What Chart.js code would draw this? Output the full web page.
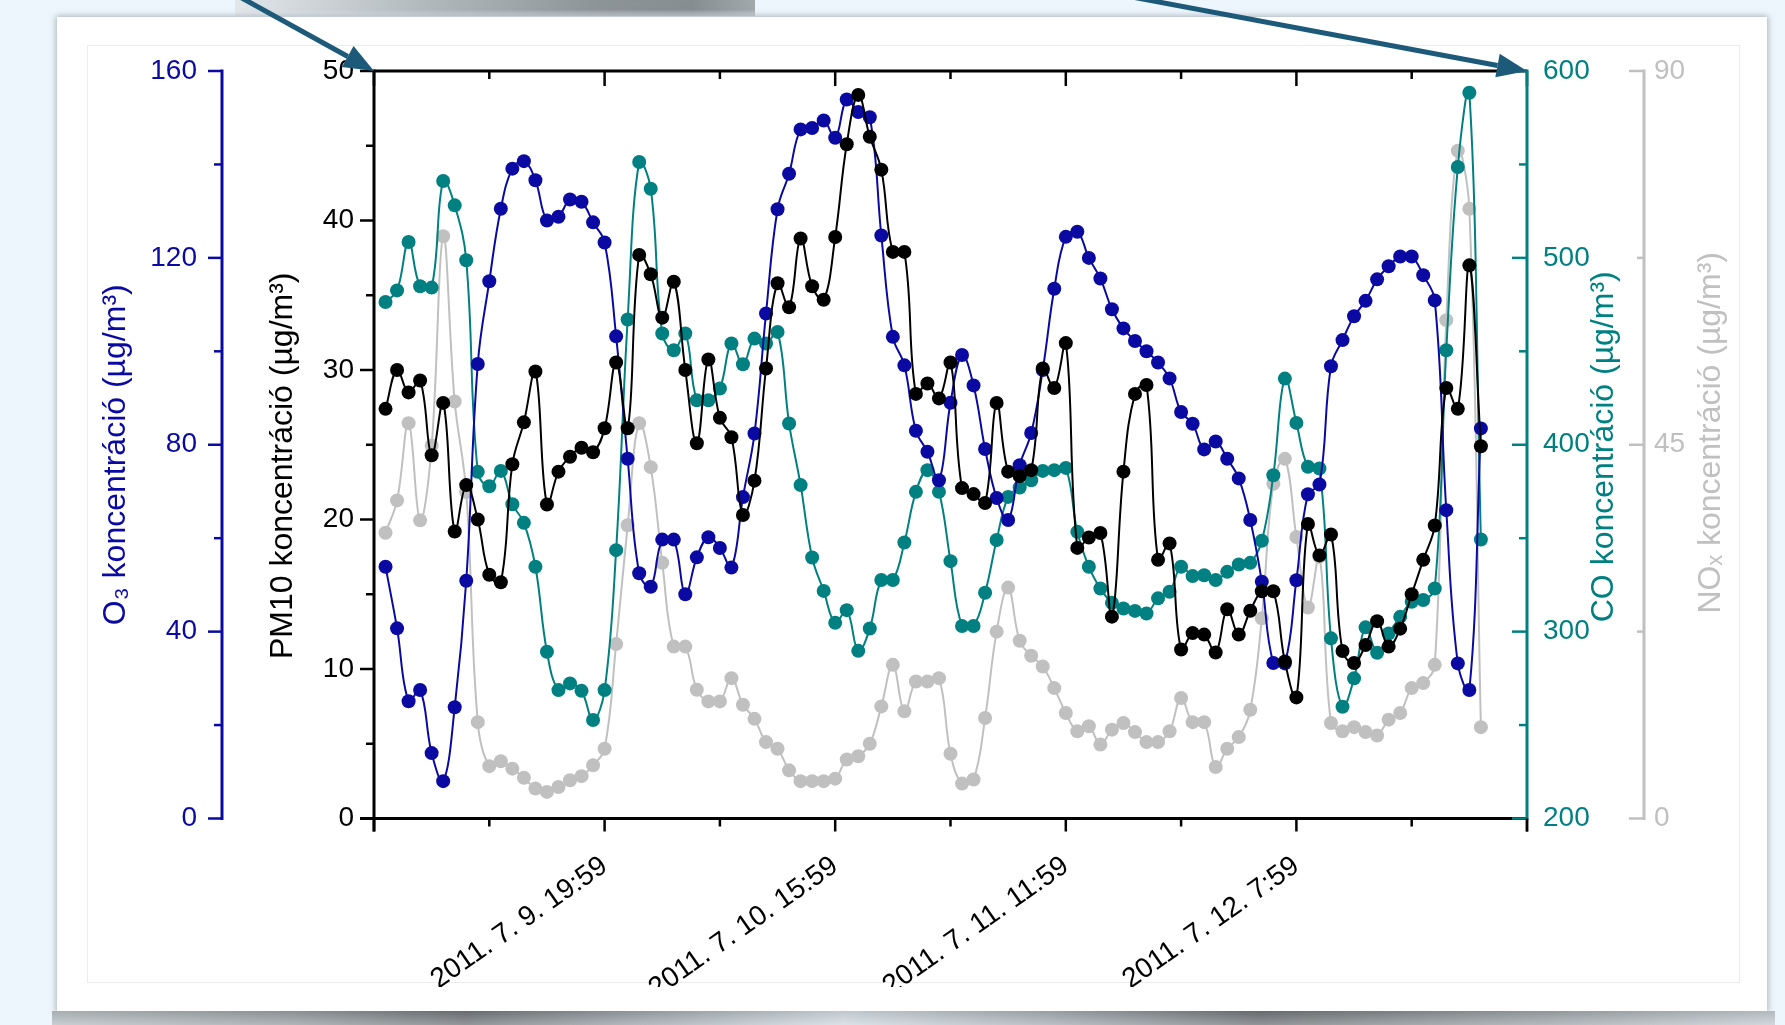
<!DOCTYPE html>
<html>
<head>
<meta charset="utf-8">
<title>O3, PM10, CO, NOx koncentráció</title>
<script src="https://cdn.jsdelivr.net/npm/chart.js@4.4.1/dist/chart.umd.min.js"></script>
<style>
  html, body { margin: 0; padding: 0; width: 1785px; height: 1025px; overflow: hidden; background: #eef6fd; }
  #topband { position: absolute; left: 235px; top: 0; width: 520px; height: 16px;
    background: linear-gradient(to bottom, rgba(255,255,255,0) 60%, rgba(238,246,253,0.6) 100%),
                linear-gradient(to right, #e2e7ea 0%, #b4bbbf 35%, #8d9498 70%, #878e92 88%, #a2a9ad 100%); }
  #card { position: absolute; left: 57px; top: 17px; width: 1710px; height: 994px; background: #fff;
    box-shadow: 0 0 6px 1px rgba(110,120,128,0.55); }
  #frame { position: absolute; left: 87px; top: 45px; width: 1651px; height: 936px; border: 1px solid #ececec; }
  #bottomband { position: absolute; left: 52px; top: 1011px; width: 1723px; height: 14px;
    background: linear-gradient(to bottom, rgba(0,0,0,0.08) 0%, rgba(255,255,255,0.25) 100%),
                linear-gradient(to right, #b6bec2 0%, #959ca0 14%, #6f7478 24%, #9aa2a8 34%, #cfd9e0 46%, #a3abb1 58%, #6d7276 70%, #8f969a 82%, #c2cacf 100%); }
  #chart { position: absolute; left: 0; top: 0; }
</style>
</head>
<body>
<div id="topband"></div>
<div id="card"></div>
<div id="frame"></div>
<div id="bottomband"></div>
<canvas id="chart" width="1785" height="987"></canvas>
<script>
// Hourly averages, first sample 2011.7.9. 0:59, last 2011.7.12. 23:59.
// x = hours elapsed since 2011.7.8. 23:59.
const O3 = [53.9, 40.7, 25.1, 27.5, 14, 8, 23.8, 50.9, 97.3, 115,
  130.5, 139.1, 140.7, 136.6, 128, 128.8, 132.5, 132, 127.6, 123.3,
  103.2, 77, 52.5, 49.6, 59.7, 59.7, 48, 55.9, 60.2, 57.9,
  53.7, 68.8, 82.4, 108.1, 130.4, 138, 147.5, 147.8, 149.4, 145.7,
  153.9, 151.2, 150.1, 124.8, 103.1, 97, 83, 78.5, 72.4, 89,
  99.2, 92.7, 79.1, 68.6, 63.9, 75.6, 82.5, 96, 113.4, 124.5,
  125.6, 120, 115.6, 109, 104.9, 102.2, 100, 97.6, 94.2, 87,
  84.5, 79, 80.7, 77, 72.8, 63.9, 50.7, 33.3, 33.2, 51,
  69.4, 71.5, 96.8, 102.4, 107.5, 110.8, 115.4, 118.2, 120.3, 120.3,
  116.3, 110.9, 66, 33.2, 27.5, 83.5];

const PM10 = [27.4, 30.0, 28.5, 29.3, 24.3, 27.8, 19.2, 22.3, 20.0, 16.3,
  15.8, 23.7, 26.5, 29.9, 21.0, 23.2, 24.2, 24.8, 24.5, 26.1,
  30.5, 26.1, 37.7, 36.4, 33.5, 35.9, 30.0, 25.1, 30.7, 26.8,
  25.5, 20.3, 22.6, 30.1, 35.8, 34.2, 38.8, 35.6, 34.7, 38.9,
  45.1, 48.4, 45.6, 43.4, 37.9, 37.9, 28.4, 29.1, 28.1, 30.5,
  22.1, 21.7, 21.1, 27.8, 23.2, 22.9, 23.3, 30.1, 28.8, 31.8,
  18.1, 18.8, 19.1, 13.5, 23.2, 28.4, 29.0, 17.3, 18.4, 11.3,
  12.4, 12.3, 11.1, 14.0, 12.3, 13.9, 15.2, 15.2, 10.5, 8.1,
  19.7, 17.6, 19.0, 11.2, 10.4, 11.6, 13.2, 11.5, 12.7, 15.0,
  17.3, 19.6, 28.8, 27.4, 37.0, 24.9];

const CO = [476.4, 482.6, 508.5, 484.8, 484.1, 541.1, 528.1, 498.7, 385.5, 377.8,
  386, 368.2, 358.2, 334.7, 289.2, 268.7, 272.3, 268.3, 252.7, 268.7,
  343.6, 467, 551.3, 537, 459.5, 450.6, 459.5, 423.8, 423.8, 430.1,
  454.2, 443.1, 456.8, 454.2, 460.4, 411.4, 378.4, 339.7, 321.8, 304.7,
  311.5, 289.7, 301.7, 327.6, 327.6, 347.7, 374.8, 386.4, 374.8, 337.7,
  303, 303, 320.8, 349, 372.1, 377.1, 381, 386, 386.4, 387.6,
  353.4, 334.7, 323.1, 315.4, 312.4, 311.1, 309.7, 317.8, 321.3, 334.7,
  329.7, 330.2, 327.6, 332, 335.9, 336.8, 348.6, 383.7, 435.4, 411.7,
  388.2, 387.3, 296.4, 259.8, 275, 302.3, 288.7, 299, 307.9, 316,
  316.9, 323.1, 450.6, 548.6, 588.4, 349.3];

const NOX = [34.4, 38.3, 47.6, 35.9, 44.9, 70.1, 50.2, 39.3, 11.6, 6.3,
  6.9, 6.0, 4.9, 3.6, 3.2, 3.8, 4.6, 5.1, 6.4, 8.4,
  21.0, 35.3, 47.6, 42.3, 30.8, 20.7, 20.7, 15.5, 14.1, 14.1,
  16.9, 13.7, 12.0, 9.2, 8.4, 5.8, 4.5, 4.5, 4.5, 4.8,
  7.1, 7.5, 9.0, 13.5, 18.5, 12.9, 16.5, 16.5, 16.9, 7.8,
  4.2, 4.7, 12.1, 22.5, 27.8, 21.4, 19.6, 18.3, 15.7, 12.7,
  10.5, 11.1, 8.9, 10.7, 11.5, 10.4, 9.2, 9.2, 10.5, 14.5,
  11.6, 11.6, 6.2, 8.4, 9.8, 13.1, 24.1, 40.3, 43.3, 33.9,
  25.4, 31.5, 11.5, 10.5, 11.0, 10.4, 10.0, 11.9, 12.7, 15.7,
  16.3, 18.5, 60.0, 80.4, 73.4, 11.0];

// labelled time ticks (hours since 2011.7.8. 23:59)
const xTickHours = [20, 40, 60, 80];
const xTickLabels = ['2011. 7. 9. 19:59', '2011. 7. 10. 15:59', '2011. 7. 11. 11:59', '2011. 7. 12. 7:59'];

const FONT = '"Liberation Sans", Arial, Helvetica, sans-serif';
const BLUE = '#0a0aa2';
const TEAL = '#008080';
const GREY = '#c0c0c0';
const BLACK = '#000000';

const toPoints = arr => arr.map((v, i) => ({ x: i + 1, y: v }));

function series(label, values, axis, color, order) {
  return {
    label, data: toPoints(values), yAxisID: axis, order,
    borderColor: color, backgroundColor: color,
    pointBackgroundColor: color, pointBorderWidth: 0,
    pointRadius: 7, borderWidth: 2, tension: 0.4, fill: false
  };
}

// Axis lines, major/minor tick marks, axis titles and the two pointer arrows.
const decorations = {
  id: 'decorations',
  afterDraw(chart) {
    const { ctx, chartArea: a, scales } = chart;
    const { x, yPM, yO3, yCO, yNOx } = scales;
    ctx.save();
    ctx.lineCap = 'butt';

    const line = (x1, y1, x2, y2, color, w) => {
      ctx.strokeStyle = color; ctx.lineWidth = w;
      ctx.beginPath(); ctx.moveTo(x1, y1); ctx.lineTo(x2, y2); ctx.stroke();
    };

    // time axis: bottom and top frame lines with ticks
    for (let v = 0; v <= 100; v += 10) {
      const px = x.getPixelForValue(v);
      const major = v % 20 === 0;
      line(px, a.bottom, px, a.bottom + (major ? 13 : 8), BLACK, 2.5);
      line(px, a.top, px, a.top + (major ? 15 : 8), BLACK, 2.5);
    }
    line(a.left - 14, a.bottom, a.right, a.bottom, BLACK, 3);
    line(a.left, a.top, a.right, a.top, BLACK, 3);

    // PM10 axis on the plot's left edge
    line(a.left, a.top - 1.5, a.left, a.bottom + 13, BLACK, 3);
    for (let v = 0; v <= 50; v += 5) {
      const py = yPM.getPixelForValue(v);
      line(a.left, py, a.left - (v % 10 === 0 ? 14 : 8), py, BLACK, 2.5);
    }

    // O3 axis, offset to the left
    const o3x = yO3.right;
    line(o3x, yO3.getPixelForValue(160) - 1.5, o3x, yO3.getPixelForValue(0) + 1.5, BLUE, 3);
    for (let v = 0; v <= 160; v += 20) {
      const py = yO3.getPixelForValue(v);
      line(o3x, py, o3x - (v % 40 === 0 ? 14 : 8), py, BLUE, 2.5);
    }

    // CO axis on the plot's right edge, ticks pointing inwards
    line(a.right, a.top - 1.5, a.right, a.bottom + 1.5, TEAL, 3);
    for (let v = 200; v <= 600; v += 50) {
      const py = yCO.getPixelForValue(v);
      line(a.right, py, a.right - (v % 100 === 0 ? 15 : 8), py, TEAL, 2.5);
    }
    line(a.right, a.bottom, a.right, a.bottom + 13, BLACK, 2.5);

    // NOx axis, offset to the right
    const nx = yNOx.left;
    line(nx, yNOx.getPixelForValue(90) - 1.5, nx, yNOx.getPixelForValue(0) + 1.5, GREY, 3);
    for (let v = 0; v <= 90; v += 22.5) {
      const py = yNOx.getPixelForValue(v);
      line(nx, py, nx - (v % 45 === 0 ? 15 : 7), py, GREY, 2.5);
    }

    // axis titles, reading bottom to top
    const midY = (a.top + a.bottom) / 2;
    const title = (text, tx, ty, color) => {
      ctx.save();
      ctx.translate(tx, ty);
      ctx.rotate(-Math.PI / 2);
      ctx.font = '32px ' + FONT;
      ctx.fillStyle = color;
      ctx.textAlign = 'center';
      ctx.textBaseline = 'middle';
      ctx.fillText(text, 0, 0);
      ctx.restore();
    };
    title('O\u2083 koncentráció (µg/m\u00B3)', o3x - 106, midY + 10, BLUE);
    title('PM10 koncentráció (µg/m\u00B3)', a.left - 91, midY + 21, BLACK);
    title('CO koncentráció (µg/m\u00B3)', a.right + 77, midY + 2, TEAL);
    title('NO\u2093 koncentráció (µg/m\u00B3)', nx + 67, midY - 12, GREY);

    // pointer arrows ending on the top corners of the plot frame
    const arrow = (x0, y0, x1, y1) => {
      const ang = Math.atan2(y1 - y0, x1 - x0);
      const head = 30, half = 12;
      const bx = x1 - head * Math.cos(ang), by = y1 - head * Math.sin(ang);
      ctx.strokeStyle = '#1d5a7a'; ctx.fillStyle = '#1d5a7a'; ctx.lineWidth = 5;
      ctx.beginPath(); ctx.moveTo(x0, y0); ctx.lineTo(bx, by); ctx.stroke();
      ctx.beginPath();
      ctx.moveTo(x1, y1);
      ctx.lineTo(bx - half * Math.sin(ang), by + half * Math.cos(ang));
      ctx.lineTo(bx + half * Math.sin(ang), by - half * Math.cos(ang));
      ctx.closePath(); ctx.fill();
    };
    arrow(240, -3, a.left, a.top);
    arrow(1132, -3, a.right, a.top);

    ctx.restore();
  }
};

const yTicks = (color, padding, step) => ({
  stepSize: step, padding, color, font: { family: FONT, size: 28 }
});

new Chart(document.getElementById('chart'), {
  type: 'line',
  data: {
    datasets: [
      series('NOx', NOX, 'yNOx', GREY, 4),
      series('CO', CO, 'yCO', TEAL, 3),
      series('O3', O3, 'yO3', BLUE, 2),
      series('PM10', PM10, 'yPM', BLACK, 1)
    ]
  },
  options: {
    responsive: false,
    devicePixelRatio: 1,
    animation: false,
    events: [],
    layout: { padding: { left: 0, top: 71, right: 41, bottom: 0 } },
    plugins: { legend: { display: false }, tooltip: { enabled: false } },
    scales: {
      x: {
        type: 'linear', position: 'bottom', min: 0, max: 100,
        grid: { display: false, drawTicks: false }, border: { display: false },
        ticks: {
          stepSize: 10, autoSkip: false, maxRotation: 35, minRotation: 35, padding: 31,
          color: BLACK, font: { family: FONT, size: 28 },
          callback: v => { const i = xTickHours.indexOf(v); return i < 0 ? '' : xTickLabels[i]; }
        },
        afterFit: s => { s.height = 168.5; }
      },
      yPM: {
        position: 'left', weight: 0, min: 0, max: 50,
        grid: { display: false, drawTicks: false }, border: { display: false },
        ticks: yTicks(BLACK, 20, 10),
        afterFit: s => { s.width = 152; }
      },
      yO3: {
        position: 'left', weight: 1, min: 0, max: 160,
        grid: { display: false, drawTicks: false }, border: { display: false },
        ticks: yTicks(BLUE, 25, 40),
        afterFit: s => { s.width = 222; }
      },
      yCO: {
        position: 'right', weight: 0, min: 200, max: 600,
        grid: { display: false, drawTicks: false }, border: { display: false },
        ticks: yTicks(TEAL, 16, 100),
        afterFit: s => { s.width = 117; }
      },
      yNOx: {
        position: 'right', weight: 1, min: 0, max: 90,
        grid: { display: false, drawTicks: false }, border: { display: false },
        ticks: yTicks(GREY, 10, 45),
        afterFit: s => { s.width = 100; }
      }
    }
  },
  plugins: [decorations]
});
</script>
</body>
</html>
